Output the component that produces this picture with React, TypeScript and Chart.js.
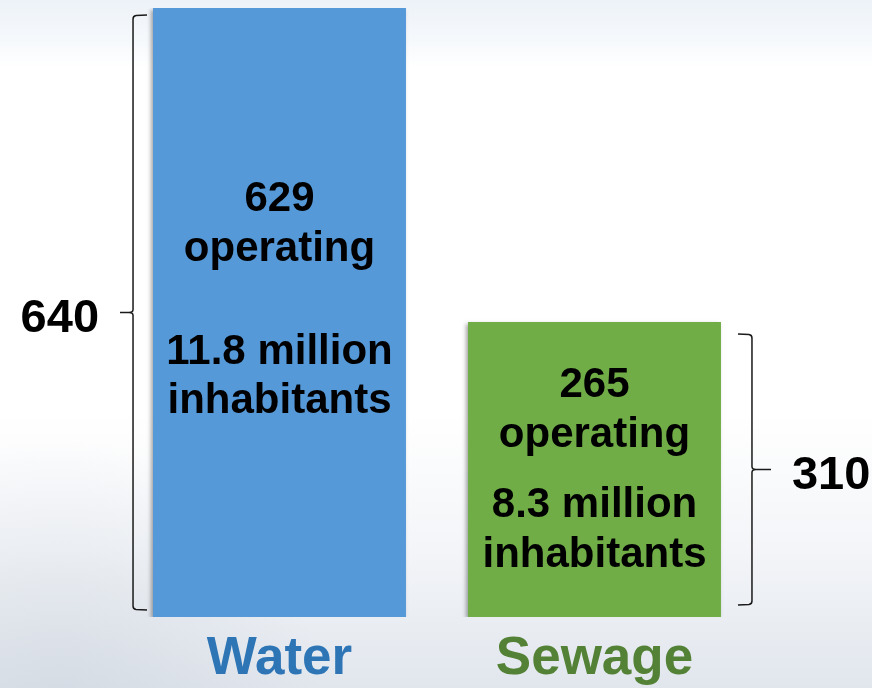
import React, { useEffect, useRef } from "react";
import { Chart, registerables } from "chart.js";

Chart.register(...registerables);

// ---- data ----
const categories = ["Water", "Sewage"];
const totals = [640, 310];
const operating = [629, 265];
const inhabitantsMillions = [11.8, 8.3];
const totalLabels = ["640", "310"];

// ---- styles ----
const barColors = ["#5599D9", "#70AD47"];
const labelColors = ["#2E75B6", "#538135"];
const FONT = '"Liberation Sans", Arial, sans-serif';
// baseline offsets of the 4 text lines relative to each bar's vertical centre
const lineOffsets = [
  [-101.5, -51.5, 51.5, 100.5],
  [-72.5, -22.5, 47.5, 97.5],
];
const braceSide = [-1, 1]; // -1 = brace on the left of the bar, tip pointing left
const braceGap = [20, 31];
const braceInset = [7, 12];
const braceTip = [13, 19];

function drawBrace(ctx: CanvasRenderingContext2D, x: number, top: number, bottom: number, dir: number, tip: number) {
  const h = -dir;
  const mid = (top + bottom) / 2;
  ctx.beginPath();
  ctx.moveTo(x + h * 14, top);
  ctx.lineTo(x + h * 3, top + 0.5);
  ctx.quadraticCurveTo(x, top + 1, x, top + 4);
  ctx.lineTo(x, mid - 3);
  ctx.quadraticCurveTo(x, mid, x + dir * 4, mid);
  ctx.lineTo(x + dir * tip, mid);
  ctx.moveTo(x + dir * 4, mid);
  ctx.quadraticCurveTo(x, mid, x, mid + 3);
  ctx.lineTo(x, bottom - 4);
  ctx.quadraticCurveTo(x, bottom - 1, x + h * 3, bottom - 0.5);
  ctx.lineTo(x + h * 14, bottom);
  ctx.stroke();
  return mid;
}

const overlayPlugin = {
  id: "overlay",
  beforeDraw(chart: any) {
    const { ctx, width, height } = chart;
    ctx.save();
    const g = ctx.createLinearGradient(0, 0, 0, height);
    g.addColorStop(0, "#edf2f8");
    g.addColorStop(0.06, "#f6f9fc");
    g.addColorStop(0.1, "#ffffff");
    g.addColorStop(0.6, "#ffffff");
    g.addColorStop(0.8, "#f3f5f8");
    g.addColorStop(1, "#e1e6ed");
    ctx.fillStyle = g;
    ctx.fillRect(0, 0, width, height);
    const r = ctx.createRadialGradient(60, 700, 10, 60, 700, 260);
    r.addColorStop(0, "rgba(200,208,218,0.45)");
    r.addColorStop(1, "rgba(200,208,218,0)");
    ctx.fillStyle = r;
    ctx.fillRect(0, 0, width, height);
    ctx.restore();
  },
  beforeDatasetsDraw(chart: any) {
    const ctx = chart.ctx;
    ctx.save();
    ctx.shadowColor = "rgba(0,0,0,0.35)";
    ctx.shadowBlur = 4;
    ctx.shadowOffsetX = -2;
    ctx.shadowOffsetY = 2;
  },
  afterDatasetsDraw(chart: any) {
    const ctx = chart.ctx;
    ctx.restore();
    const meta = chart.getDatasetMeta(0);
    meta.data.forEach((bar: any, i: number) => {
      const cx = bar.x;
      const center = (bar.y + bar.base) / 2;
      const lines = [String(operating[i]), "operating", `${inhabitantsMillions[i]} million`, "inhabitants"];
      ctx.save();
      ctx.fillStyle = "#000000";
      ctx.font = `bold 42px ${FONT}`;
      ctx.textAlign = "center";
      ctx.textBaseline = "alphabetic";
      lines.forEach((t, k) => ctx.fillText(t, cx, center + lineOffsets[i][k]));

      // brace
      const side = braceSide[i];
      const edge = side < 0 ? bar.x - bar.width / 2 : bar.x + bar.width / 2;
      const bx = edge + side * braceGap[i];
      ctx.strokeStyle = "#1a1a1a";
      ctx.lineWidth = 1.5;
      const mid = drawBrace(ctx, bx, bar.y + braceInset[i], bar.base - braceInset[i], side, braceTip[i]);
      ctx.font = `bold 47px ${FONT}`;
      ctx.textAlign = side < 0 ? "right" : "left";
      const tx = bx + side * braceTip[i] + side * 21;
      ctx.fillText(totalLabels[i], tx, mid + 19);
      ctx.restore();
    });
  },
};

export default function App() {
  const ref = useRef<HTMLCanvasElement>(null);
  useEffect(() => {
    if (!ref.current) return;
    const chart = new Chart(ref.current, {
      type: "bar",
      data: {
        labels: categories,
        datasets: [
          {
            data: totals,
            backgroundColor: barColors,
            borderWidth: 0,
            categoryPercentage: 1,
            barPercentage: 0.803,
          },
        ],
      },
      options: {
        responsive: false,
        animation: false,
        layout: { padding: { left: 122, right: 120, top: 8, bottom: 0 } },
        plugins: { legend: { display: false }, tooltip: { enabled: false } },
        scales: {
          y: { display: false, min: 0, max: Math.max(...totals) },
          x: {
            grid: { display: false, drawTicks: false },
            border: { display: false },
            ticks: {
              padding: 11,
              maxRotation: 0,
              font: { family: FONT, size: 53, weight: "bold" },
              color: (c: any) => labelColors[c.index] ?? "#000",
            },
            afterFit: (scale: any) => {
              scale.height = 71;
            },
          },
        },
      },
      plugins: [overlayPlugin],
    } as any);
    return () => chart.destroy();
  }, []);
  return (
    <div style={{ position: "absolute", left: 0, top: 0, width: 872, height: 688 }}>
      <canvas ref={ref} width={872} height={688} />
    </div>
  );
}
